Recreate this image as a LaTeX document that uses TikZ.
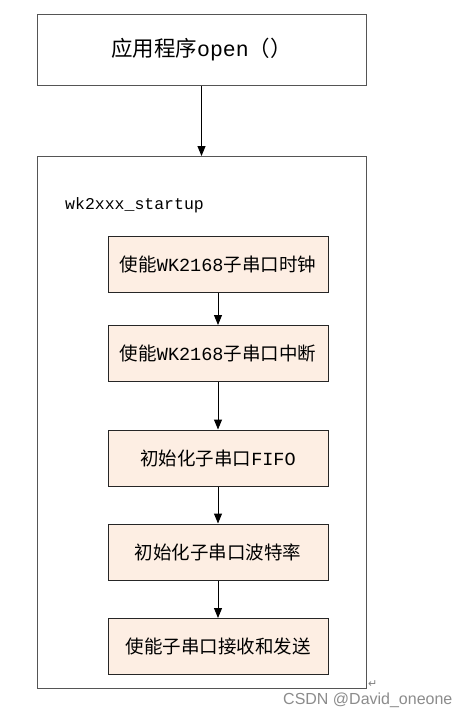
\documentclass[tikz,border=0pt]{standalone}
\usepackage{fontspec}
\setmainfont{Liberation Serif}
\newfontfamily\cjk{Noto Sans CJK SC}
\newfontfamily\monof{Liberation Mono}
\newfontfamily\wmfont{Liberation Sans}
\newfontfamily\symf{DejaVu Sans}
\usetikzlibrary{arrows.meta}
\definecolor{peach}{HTML}{FDEEE3}
\definecolor{framegray}{HTML}{555555}
\tikzset{
  outerbox/.style={draw=framegray, line width=1pt, fill=white},
  stepbox/.style={draw=black!85, line width=1pt, fill=peach, minimum width=220pt, minimum height=56pt, inner sep=0pt, font=\cjk\fontsize{18.5}{22}\selectfont},
  flow/.style={draw=black, line width=1pt, -{Triangle[length=10pt,width=8pt]}}
}
\begin{document}
\begin{tikzpicture}[x=1pt,y=-1pt]
\useasboundingbox (0,0) rectangle (476,718);
\fill[white] (0,0) rectangle (476,718);
% top box
\node[outerbox, minimum width=329pt, minimum height=71pt, inner sep=0pt, font=\cjk\fontsize{21.5}{24}\selectfont] (app) at (201.5,49.5) {应用程序{\monof open}（）};
% big frame
\draw[outerbox] (37,156) rectangle (366,688);
\coordinate (frametop) at (201.5,156);
\draw[flow] (app.south) -- (frametop);
\node[anchor=west, font=\monof\fontsize{16.5}{19}\selectfont, inner sep=0pt] (title) at (65,205) {wk2xxx\_startup};
\node[stepbox] (s1) at (218,264) {使能{\monof WK2168}子串口时钟};
\node[stepbox] (s2) at (218,353.5) {使能{\monof WK2168}子串口中断};
\node[stepbox] (s3) at (218,458) {初始化子串口{\monof FIFO}};
\node[stepbox] (s4) at (218,552) {初始化子串口波特率};
\node[stepbox] (s5) at (218,646.5) {使能子串口接收和发送};
\draw[flow] (s1) -- (s2);
\draw[flow] (s2) -- (s3);
\draw[flow] (s3) -- (s4);
\draw[flow] (s4) -- (s5);
\node[anchor=west, inner sep=0pt, text=gray, font=\symf\fontsize{11}{12}\selectfont] (ret) at (368,684) {↵};
\node[anchor=west, inner sep=0pt, text=black!45, font=\wmfont\fontsize{16}{18}\selectfont] (wm) at (283,700) {CSDN @David\_oneone};
\end{tikzpicture}
\end{document}
